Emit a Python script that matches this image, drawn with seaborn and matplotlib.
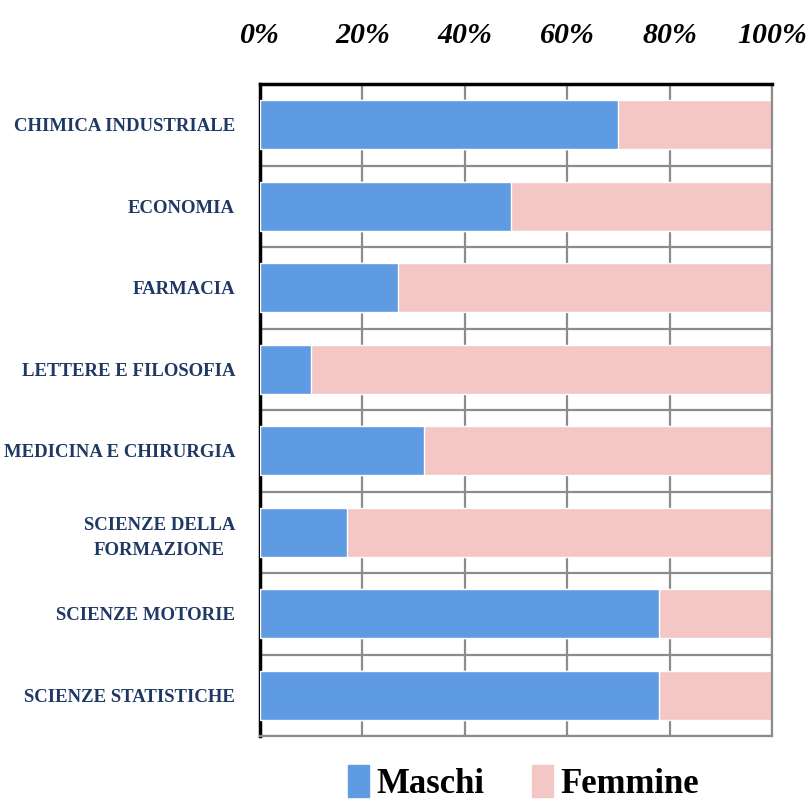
import matplotlib
matplotlib.use("Agg")
import matplotlib.pyplot as plt
import seaborn as sns
import pandas as pd
from matplotlib.patches import Patch

# Data
categories = [
    "CHIMICA INDUSTRIALE",
    "ECONOMIA",
    "FARMACIA",
    "LETTERE E FILOSOFIA",
    "MEDICINA E CHIRURGIA",
    "SCIENZE DELLA\nFORMAZIONE",
    "SCIENZE MOTORIE",
    "SCIENZE STATISTICHE",
]
maschi = [70, 49, 27, 10, 32, 17, 78, 78]
femmine = [30, 51, 73, 90, 68, 83, 22, 22]
tick_values = [0, 20, 40, 60, 80, 100]
tick_labels = ["0%", "20%", "40%", "60%", "80%", "100%"]

BLUE = "#5E9BE2"
PINK = "#F5C6C6"
NAVY = "#1F3864"
GRID = "#8C8C8C"
FONT = "Liberation Serif"

sns.set_style("white")

df = pd.DataFrame({"corso": categories, "Maschi": maschi, "Femmine": femmine})
df["Totale"] = df["Maschi"] + df["Femmine"]

fig = plt.figure(figsize=(8.11, 8.0), dpi=100)
ax = fig.add_axes([0.3206, 0.08, 0.952 - 0.3206, 0.895 - 0.08])

# stacked 100% bars: full bar in pink, male share in blue on top
sns.barplot(data=df, x="Totale", y="corso", color=PINK, width=0.6,
            saturation=1, ax=ax, zorder=2)
sns.barplot(data=df, x="Maschi", y="corso", color=BLUE, width=0.6,
            saturation=1, ax=ax, zorder=3)

ax.set_xlim(0, 100)
ax.set_ylim(len(categories) - 0.5, -0.5)
ax.set_xlabel("")
ax.set_ylabel("")

# grid lines
for v in tick_values[1:]:
    ax.axvline(v, color=GRID, lw=1.6, zorder=1)
for i in range(len(categories)):
    ax.axhline(i + 0.5, color=GRID, lw=1.6, zorder=1)

for side in ["top", "left"]:
    ax.spines[side].set_color("black")
    ax.spines[side].set_linewidth(2.5)
for side in ["bottom", "right"]:
    ax.spines[side].set_color(GRID)
    ax.spines[side].set_linewidth(1.6)

ax.xaxis.tick_top()
ax.set_xticks(tick_values)
ax.set_xticklabels(tick_labels, fontsize=21.5, fontweight="bold", style="italic",
                   family=FONT, color="black")
ax.tick_params(axis="x", length=0, pad=25)

ax.set_yticks(range(len(categories)))
ax.set_yticklabels(categories, fontsize=13.5, fontweight="bold", color=NAVY,
                   family=FONT, multialignment="center", linespacing=1.6)
ax.tick_params(axis="y", length=0, pad=18)

handles = [Patch(color=BLUE, label="Maschi"), Patch(color=PINK, label="Femmine")]
fig.legend(handles=handles, loc="center", bbox_to_anchor=(0.6455, 0.021), ncol=2,
           frameon=False, handlelength=0.6, handleheight=1.0, handletextpad=0.2,
           columnspacing=1.4, borderpad=0.1, labelcolor="black",
           prop={"family": FONT, "size": 25, "weight": "bold"})

fig.savefig("out.png", dpi=100)
